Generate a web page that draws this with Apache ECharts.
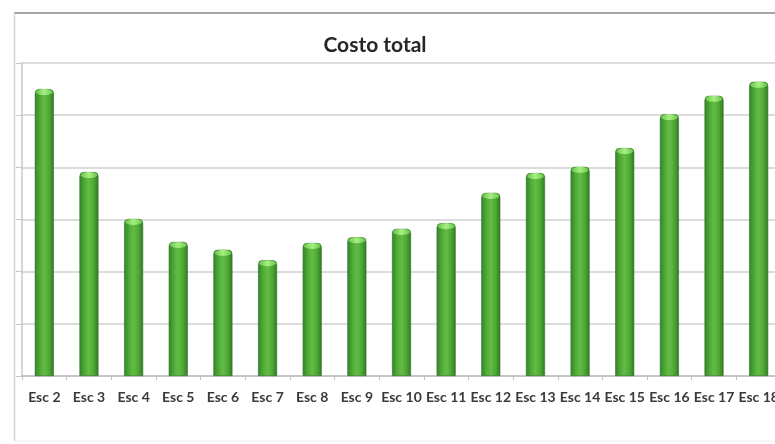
<!DOCTYPE html>
<html>
<head>
<meta charset="utf-8">
<script src="https://cdn.jsdelivr.net/npm/echarts@6/dist/echarts.min.js"></script>
<style>
html,body{margin:0;padding:0;background:#fff;}
#chart{width:775px;height:444px;}
</style>
</head>
<body>
<div id="chart"></div>
<script>
const categories = ["Esc 2","Esc 3","Esc 4","Esc 5","Esc 6","Esc 7","Esc 8","Esc 9","Esc 10","Esc 11","Esc 12","Esc 13","Esc 14","Esc 15","Esc 16","Esc 17","Esc 18"];
const costoTotal = [55.0, 39.1, 30.1, 25.7, 24.2, 22.2, 25.5, 26.6, 28.2, 29.3, 35.1, 38.9, 40.1, 43.7, 50.2, 53.7, 56.4];
const titleText = "Costo total";

const chart = echarts.init(document.getElementById('chart'));
const barGrad = new echarts.graphic.LinearGradient(0, 0, 1, 0, [
  {offset: 0, color: '#33842a'},
  {offset: 0.3, color: '#52ae38'},
  {offset: 0.5, color: '#62bd44'},
  {offset: 0.75, color: '#4ea836'},
  {offset: 1, color: '#307a24'}
]);
chart.setOption({
  backgroundColor: '#ffffff',
  animation: false,
  title: {
    text: titleText,
    left: 370,
    textAlign: 'center',
    top: 30,
    textStyle: {fontFamily: 'Lato', fontWeight: 'bold', fontSize: 21, color: '#262626'}
  },
  graphic: [
    {type: 'line', shape: {x1: 14, y1: 13, x2: 775, y2: 13}, style: {stroke: '#a6a6a6', lineWidth: 2}, silent: true},
    {type: 'line', shape: {x1: 14.5, y1: 13, x2: 14.5, y2: 441}, style: {stroke: '#d4d4d4', lineWidth: 1.5}, silent: true},
    {type: 'line', shape: {x1: 14, y1: 441, x2: 775, y2: 441}, style: {stroke: '#eeeeee', lineWidth: 1}, silent: true}
  ],
  grid: {left: 22, top: 63, width: 759, height: 313, containLabel: false, outerBoundsMode: 'none'},
  xAxis: {
    type: 'category',
    data: categories,
    boundaryGap: true,
    axisLine: {lineStyle: {color: '#bfbfbf', width: 1.5}},
    axisTick: {show: true, length: 4, lineStyle: {color: '#bfbfbf'}},
    axisLabel: {color: '#3a3a3a', fontFamily: 'Lato', fontWeight: 'bold', fontSize: 14, margin: 14, interval: 0, hideOverlap: false}
  },
  yAxis: {
    type: 'value',
    min: 0, max: 60, interval: 10,
    axisLine: {show: true, lineStyle: {color: '#c8c8c8', width: 1.5}},
    axisTick: {show: true, length: 6, lineStyle: {color: '#c8c8c8'}},
    axisLabel: {show: false},
    splitLine: {lineStyle: {color: '#d0d0d0', width: 1.5}}
  },
  series: [
    {
      type: 'bar',
      data: costoTotal,
      barWidth: 19,
      itemStyle: {color: barGrad, borderColor: '#2d6e22', borderWidth: 0.6, borderRadius: [4, 4, 0, 0]},
      z: 2
    },
    {
      type: 'pictorialBar',
      data: costoTotal,
      symbol: 'circle',
      symbolSize: [17, 6],
      symbolPosition: 'end',
      symbolOffset: [0, 0],
      itemStyle: {color: new echarts.graphic.LinearGradient(0, 0, 1, 0, [
        {offset: 0, color: '#6ac64a'}, {offset: 0.5, color: '#a6ee82'}, {offset: 1, color: '#6ac64a'}
      ])},
      z: 3,
      silent: true
    }
  ]
});
</script>
</body>
</html>
